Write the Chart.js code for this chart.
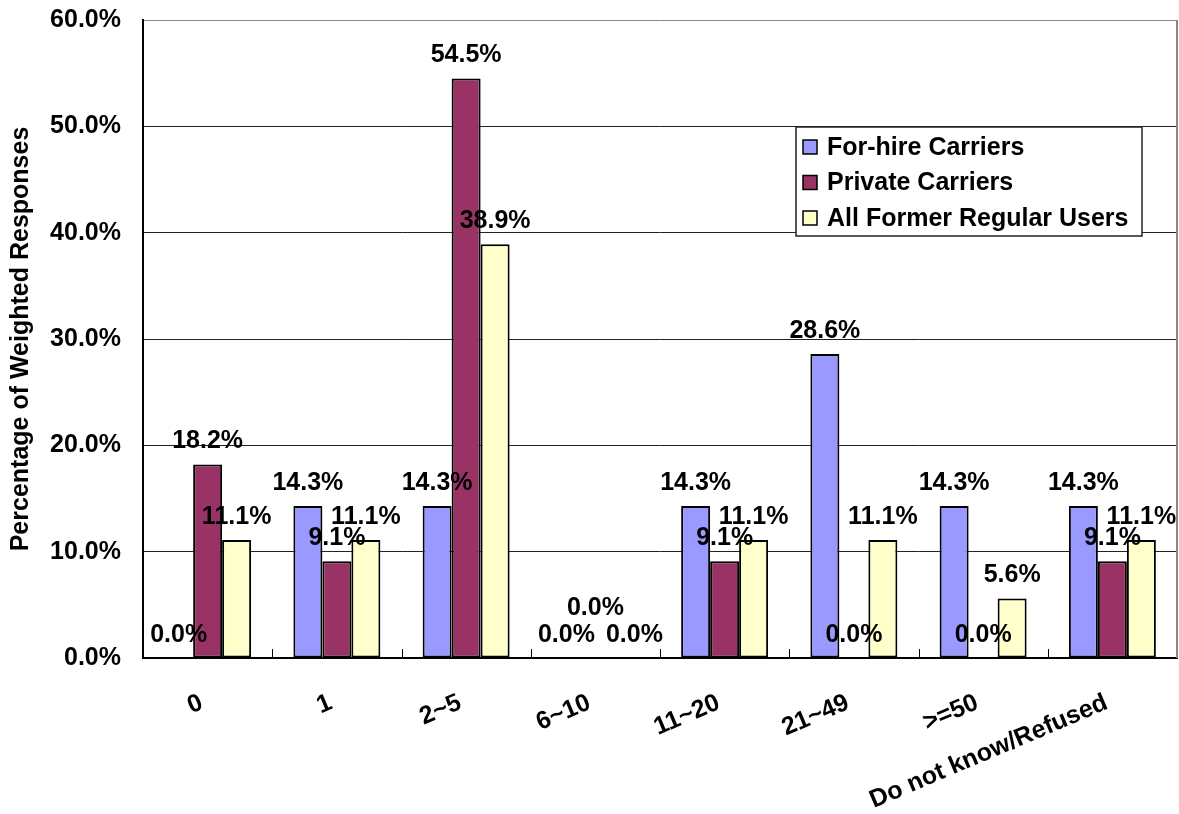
<!DOCTYPE html>
<html>
<head>
<meta charset="utf-8">
<title>Weighted responses by count</title>
<script src="https://cdn.jsdelivr.net/npm/chart.js@4.4.0/dist/chart.umd.min.js"></script>
<style>
  html,body{margin:0;padding:0;background:#fff;}
  #wrap{width:1179px;height:814px;}
</style>
</head>
<body>
<div id="wrap"><canvas id="chart" width="1179" height="814"></canvas></div>
<script>
// === Data ===
const categories = ['0','1','2~5','6~10','11~20','21~49','>=50','Do not know/Refused'];
const seriesNames = ['For-hire Carriers','Private Carriers','All Former Regular Users'];
const forHire         = [0.0, 14.3, 14.3, 0.0, 14.3, 28.6, 14.3, 14.3];
const privateCarriers = [18.2, 9.1, 54.5, 0.0, 9.1, 0.0, 0.0, 9.1];
const allFormer       = [11.1, 11.1, 38.9, 0.0, 11.1, 11.1, 5.6, 11.1];
const yTicks = [0, 10, 20, 30, 40, 50, 60];

// === Style ===
const FONT = '"Liberation Sans", Arial, Helvetica, sans-serif';
const FS = 25;
const COLORS = ['#9999FF', '#993366', '#FFFFCC'];
const bold = size => ({family: FONT, size, weight: 'bold'});
// the three zero labels in 6~10 sit on top of each other, spread them out
const nudge = {'1:3': [0, -27], '2:3': [10, 0]};

// value label above each bar
const valueLabels = {
  id: 'valueLabels',
  afterDatasetsDraw(chart){
    const ctx = chart.ctx; ctx.save();
    ctx.font = 'bold ' + FS + 'px ' + FONT; ctx.fillStyle = '#000';
    ctx.textAlign = 'center'; ctx.textBaseline = 'alphabetic';
    chart.data.datasets.forEach((ds, di)=>{
      chart.getDatasetMeta(di).data.forEach((bar, i)=>{
        const n = nudge[di + ':' + i] || [0, 0];
        ctx.fillText(ds.data[i].toFixed(1) + '%', bar.x + n[0], bar.y - 16 + n[1]);
      });
    });
    ctx.restore();
  }
};

// right frame edge, category divider ticks and the boxed legend
const frame = {
  id: 'frame',
  afterDraw(chart){
    const {ctx, chartArea: a} = chart, xs = chart.scales.x;
    ctx.save();
    ctx.strokeStyle = '#888'; ctx.lineWidth = 2;
    ctx.beginPath(); ctx.moveTo(a.right, a.top); ctx.lineTo(a.right, a.bottom); ctx.stroke();
    ctx.strokeStyle = '#000'; ctx.lineWidth = 1;
    for(let i = 1; i < categories.length; i++){
      const x = Math.round((xs.getPixelForValue(i - 1) + xs.getPixelForValue(i)) / 2) + 0.5;
      ctx.beginPath(); ctx.moveTo(x, a.bottom); ctx.lineTo(x, a.bottom - 9); ctx.stroke();
    }
    // legend
    const lx = a.right - 381, ly = a.top + 107, lw = 346, lh = 109;
    ctx.fillStyle = '#fff'; ctx.fillRect(lx, ly, lw, lh);
    ctx.strokeStyle = '#222'; ctx.lineWidth = 1.5; ctx.strokeRect(lx, ly, lw, lh);
    ctx.font = 'bold ' + FS + 'px ' + FONT; ctx.textAlign = 'left'; ctx.textBaseline = 'middle';
    chart.data.datasets.forEach((ds, i)=>{
      const cy = ly + 20 + i * 35.5;
      ctx.fillStyle = ds.backgroundColor; ctx.fillRect(lx + 7, cy - 7, 14, 14);
      ctx.strokeStyle = '#000'; ctx.lineWidth = 1.5; ctx.strokeRect(lx + 7, cy - 7, 14, 14);
      ctx.fillStyle = '#000'; ctx.fillText(ds.label, lx + 31, cy + 1);
    });
    ctx.restore();
  }
};

Chart.defaults.font.family = FONT;
Chart.defaults.color = '#000';

const values = [forHire, privateCarriers, allFormer];
new Chart(document.getElementById('chart'), {
  type: 'bar',
  data: {
    labels: categories,
    datasets: seriesNames.map((name, i)=>({
      label: name, data: values[i],
      backgroundColor: COLORS[i], borderColor: '#000', borderWidth: 2, borderSkipped: false,
      barPercentage: 1, categoryPercentage: 0.673
    }))
  },
  options: {
    responsive: false, animation: false, devicePixelRatio: 1,
    layout: {padding: {top: 20, right: 2, left: 0, bottom: 0}},
    plugins: {legend: {display: false}, tooltip: {enabled: false}},
    scales: {
      x: {
        offset: true,
        grid: {display: true, drawOnChartArea: false, drawTicks: false},
        border: {color: '#000', width: 2},
        ticks: {font: bold(FS), color: '#000', minRotation: 23, maxRotation: 23, autoSkip: false, padding: 30, labelOffset: -6},
        afterFit(s){ s.height = 156; s.paddingLeft = 0; s.paddingRight = 0; }
      },
      y: {
        min: 0, max: 60,
        afterBuildTicks(s){ s.ticks = yTicks.map(v=>({value: v})); },
        ticks: {font: bold(FS), color: '#000', padding: 22, callback: v=>v.toFixed(1) + '%'},
        grid: {drawTicks: false, lineWidth: 1, color: c=>c.tick && c.tick.value === 60 ? '#888' : '#222'},
        border: {color: '#000', width: 2},
        title: {display: true, text: 'Percentage of Weighted Responses', font: bold(FS), color: '#000', padding: {top: 6, bottom: 0}},
        afterFit(s){ s.width = 143; s.paddingTop = 0; s.paddingBottom = 0; }
      }
    }
  },
  plugins: [valueLabels, frame]
});
</script>
</body>
</html>
